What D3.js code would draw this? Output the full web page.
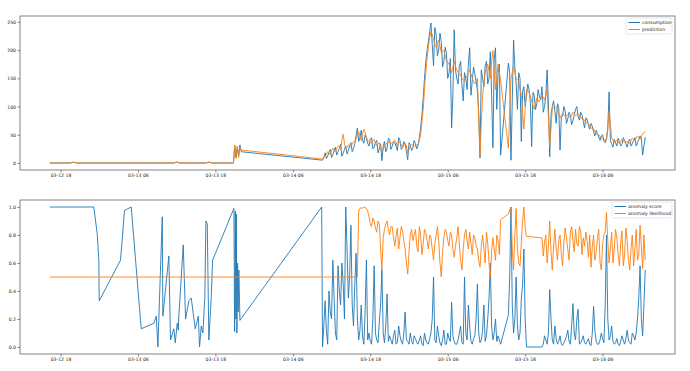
<!DOCTYPE html>
<html>
<head>
<meta charset="utf-8">
<script src="https://cdn.jsdelivr.net/npm/d3@7"></script>
<style>
  body { margin: 0; background: #fff; }
  svg text { font-family: "DejaVu Sans", sans-serif; }
</style>
</head>
<body>
<svg id="chart" width="690" height="371"></svg>
<script>
// hours are counted from 03-12 18:00
var baseTime = new Date(2017, 2, 12, 18, 0, 0);

// early, sparse readings (top panel)
var earlyHours = [-1.66, 1.5, 2.0, 2.5, 17.5, 18.0, 18.5, 22.5, 23.0, 23.5, 26.8, 27.0, 27.2, 27.4, 27.6, 27.8, 28.0];
var earlyConsumption = [0, 0, 1.5, 0, 0, 1.5, 0, 0, 1.5, 0, 0, 30, 10, 28, 12, 32, 20];
var earlyPrediction = [0, 0, 1.5, 0, 0, 1.5, 0, 0, 1.5, 0, 0, 32, 8, 30, 10, 28, 23];

// early, sparse readings (bottom panel)
var earlyScoreHours = [-1.66, 5.16, 5.69, 5.94, 6.00, 9.30, 9.92, 10.96, 12.51, 14.47, 14.84, 15.09, 15.77, 15.86,
  16.79, 17.05, 17.57, 17.78, 18.09, 18.25, 18.34, 19.02, 19.38, 19.89, 20.26, 20.88, 21.35, 21.55, 21.81,
  22.06, 22.37, 22.53, 22.74, 22.99, 23.36, 23.57, 26.87, 26.98, 27.09, 27.18, 27.24, 27.33, 27.44, 27.52,
  27.64, 27.80, 40.47];
var earlyScore = [1.0, 1.0, 0.81, 0.62, 0.33, 0.62, 0.975, 1.0, 0.13, 0.17, 0.22, 0.0, 0.93, 0.22, 0.65,
  0.05, 0.13, 0.03, 0.17, 0.12, 0.22, 0.73, 0.2, 0.33, 0.35, 0.13, 0.22, 0.0, 0.15, 0.1, 0.36, 0.9, 0.88,
  0.05, 0.36, 0.62, 0.99, 0.11, 0.97, 0.2, 0.95, 0.1, 0.6, 0.25, 0.55, 0.19, 1.0];
var earlyLikelihood = [0.5, 0.5, 0.5, 0.5, 0.5, 0.5, 0.5, 0.5, 0.5, 0.5, 0.5, 0.5, 0.5, 0.5, 0.5, 0.5, 0.5,
  0.5, 0.5, 0.5, 0.5, 0.5, 0.5, 0.5, 0.5, 0.5, 0.5, 0.5, 0.5, 0.5, 0.5, 0.5, 0.5, 0.5, 0.5, 0.5, 0.5, 0.5,
  0.5, 0.5, 0.5, 0.5, 0.5, 0.5, 0.5, 0.5, 0.5];

// regular readings from 03-14 10:36 every 24 minutes, plus the readings 12 minutes later (null = missing)
var gridStartHour = 40.6;
var gridStepHours = 0.4;

var consumption = [5, 18, 12, 24, 15, 28, 20, 33, 17, 30, 22, 36, 26,
  48, 38, 58, 35, 44,
  30, 45, 28, 40, 25, 4, 38, 26, 42, 30, 36, 22, 40, 28, 34, 6, 32, 26, 34,
  30, 62, 115, 180, 215, 248,
  172, 228, 200, 215, 180, 195, 160, 62, 236, 150, 172, 138, 160, 130, 204, 145, 158, 128, 9, 150, 172, 140,
  197, 27, 204, 160, 14, null, null, 177, 5, 218, 140, 160, 38, 135, 118, 130, 29, 120, 105, 118, 135, 100,
  165, 11, 100, 92, 105, 23, 85, 92, 78, 84, 75, 95, 82, 90, 74, 80, 66, 70, 55, 58, 46, 48, 38, 44, 126,
  34, 42, 30, 38, 33, 40, 28, 42, 34, 45, 36, 48, 14, 46];
var consumptionMid = [10, 8, 20, 10, 22, 14, 26, 12, 24, 16,
  30, 20, 34, 62, 45, 40, 50, 35, 42, 25,
  36, 18, 34, 30, 20, 44, 24, 38, 30, 45,
  24, 38, 20, 36, 22, 40, 25, 45, 85, 150,
  200, 232, 210, 240, 190, 230, 170, 205, 150, 185,
  120, 165, 140, 180, 110, 150, 175, 120, 170, 145,
  90, 165, 135, 180, 150, 120, 185, 95, 175, null,
  null, null, 160, 110, 170, 95, 150, 128, 100, 140,
  108, 125, 95, 130, 112, 90, 120, 105, 85, 110,
  70, 98, 80, 100, 70, 90, 68, 85, 100, 76,
  85, 62, 78, 60, 65, 48, 52, 40, 50, 36,
  60, 40, 28, 36, 44, 30, 45, 35, 38, 30,
  40, 30, 42, 44, 30];

var prediction = [7, 12, 20, 15, 26, 20, 30, 24, 51, 25, 32, 28, 38,
  42, 55, 40, 60, 45,
  38, 35, 42, 30, 36, 20, 30, 35, 38, 34, 40, 30, 36, 28, 35, 18, 30, 32, 30,
  33, 50, 95, 160, 205, 232,
  220, 205, 218, 195, 200, 182, 175, 160, 180, 165, 158, 150, 145, 155, 165, 150, 140, 150, 14, 120, 160, 175,
  150, 199, 130, 175, 145, null, null, 26, 150, 170, 150, 145, 120, 60, 130, 125, 110, 95, 115, 108, 120, 112,
  130, 29, 95, 100, 96, 80, 88, 82, 86, 80, 90, 84, 88, 80, 78, 72, 70, 62, 60, 52, 50, 44, 42, 40, 90,
  45, 36, 40, 34, 42, 36, 38, 35, 44, 40, 48, 42, 52, 55];
var predictionMid = [10, 16, 18, 22, 22, 26, 28, 40, 35, 28,
  30, 34, 40, 50, 48, 52, 54, 40, 36, 40,
  35, 34, 28, 24, 34, 36, 36, 38, 36, 38,
  32, 32, 30, 24, 32, 30, 32, 40, 72, 130,
  185, 222, 228, 210, 212, 208, 198, 190, 178, 168,
  170, 172, 160, 155, 148, 150, 160, 158, 145, 145,
  80, 70, 140, 168, 162, 180, 165, 150, 160, null,
  null, null, 90, 160, 160, 148, 130, 90, 95, 128,
  118, 102, 105, 112, 114, 116, 120, 80, 62, 98,
  98, 88, 84, 85, 84, 82, 85, 87, 86, 84,
  79, 75, 71, 66, 61, 56, 51, 47, 43, 41,
  65, 68, 40, 38, 37, 38, 39, 37, 36, 40,
  42, 44, 45, 47, 54];

var anomalyScore = [0.0, 0.33, 0.02, 0.25, 0.62, 0.1, 0.58, 0.3, 0.45, 1.0, 0.35, 0.87, 0.15, 0.67,
  0.05, 0.3, 0.02, 0.62, 0.1, 0.02, 0.58, 0.05, 0.18, 0.55, 0.03, 0.38, 0.08, 0.02, 0.12, 0.03, 0.08, 0.02,
  0.25, 0.04, 0.1, 0.02, 0.06, 0.02, 0.08, 0.01, 0.05, 0.02, 0.1, 0.5, 0.03, 0.08, 0.01, 0.12, 0.02, 0.06,
  0.32, 0.04, 0.02, 0.1, 0.03, 0.5, 0.05, 0.15, 0.02, 0.08, 0.45, 0.03, 0.12, 0.04, 0.2, 0.6, 0.05, 0.2,
  0.08, 0.02, null, null, 0.23, 1.0, 0.1, 0.5, 0.05, 0.34, 0.7, 0.0, null, null, null, null, null, 0.0,
  0.08, 0.02, 0.41, 0.05, 0.15, 0.02, 0.08, 0.01, 0.05, 0.12, 0.02, 0.31, 0.05, 0.27, 0.03, 0.08, 0.02,
  0.06, 0.01, 0.29, 0.04, 0.02, 0.1, 0.03, 0.8, 0.05, 0.15, 0.02, 0.06, 0.01, 0.08, 0.02, 0.12, 0.03, 0.1,
  0.05, 0.2, 0.58, 0.08, 0.55];
var anomalyScoreMid = [0.15, 0.12, 0.4, 0.2, 0.35, 0.05, 0.4, 0.6, 0.2, 0.7,
  0.5, 0.3, 0.45, 0.2, 0.12, 0.08, 0.25, 0.05, 0.04, 0.2,
  0.1, 0.03, 0.3, 0.1, 0.15, 0.04, 0.05, 0.08, 0.02, 0.15,
  0.04, 0.1, 0.05, 0.02, 0.04, 0.08, 0.03, 0.05, 0.02, 0.1,
  0.03, 0.06, 0.2, 0.05, 0.15, 0.03, 0.05, 0.02, 0.1, 0.04,
  0.08, 0.02, 0.05, 0.15, 0.02, 0.1, 0.3, 0.04, 0.06, 0.2,
  0.1, 0.05, 0.3, 0.08, 0.35, 0.15, 0.1, 0.04, 0.05, null,
  null, null, 0.5, 0.3, 0.2, 0.15, 0.1, 0.45, 0.2, null,
  null, null, null, null, null, 0.02, 0.05, 0.1, 0.2, 0.02,
  0.06, 0.04, 0.02, 0.03, 0.08, 0.04, 0.15, 0.1, 0.2, 0.02,
  0.05, 0.03, 0.04, 0.02, 0.1, 0.12, 0.02, 0.05, 0.06, 0.3,
  0.2, 0.08, 0.04, 0.03, 0.02, 0.04, 0.05, 0.06, 0.05, 0.02,
  0.08, 0.1, 0.35, 0.2, 0.3];

var anomalyLikelihood = [0.5, 0.5, 0.5, 0.5, 0.5, 0.5, 0.5, 0.5, 0.5, 0.5, 0.5, 0.5, 0.5, 0.5,
  0.97, 0.995, 1.0, 0.99, 0.93, 0.86, 0.9, 0.82, 0.88, 0.55, 0.84, 0.9, 0.8, 0.86, 0.72, 0.85, 0.78, 0.83,
  0.7, 0.52, 0.8, 0.76, 0.84, 0.68, 0.8, 0.74, 0.82, 0.7, 0.78, 0.62, 0.8, 0.76, 0.5, 0.78, 0.82, 0.72,
  0.8, 0.64, 0.78, 0.74, 0.55, 0.8, 0.76, 0.82, 0.66, 0.78, 0.7, 0.57, 0.8, 0.6, 0.74, 0.5, 0.78, 0.62,
  0.76, 0.91, null, null, 0.95, 1.0, 0.55, 0.99, 0.6, 0.75, 1.0, 0.79, null, null, null, null, null, 0.78,
  0.75, 0.6, 0.9, 0.55, 0.84, 0.62, 0.8, 0.58, 0.85, 0.7, 0.82, 0.76, 0.84, 0.72, 0.83, 0.78, 0.82, 0.64,
  0.57, 0.8, 0.68, 0.84, 0.55, 0.8, 0.96, 0.6, 0.82, 0.7, 0.78, 0.58, 0.83, 0.66, 0.76, 0.55, 0.8, 0.7,
  0.62, 0.87, 0.56, 0.62];
var anomalyLikelihoodMid = [0.5, 0.5, 0.5, 0.5, 0.5, 0.5, 0.5, 0.5, 0.5, 0.5,
  0.5, 0.5, 0.5, 0.5, 0.99, 0.99, 0.995, 0.97, 0.88, 0.92,
  0.85, 0.9, 0.7, 0.78, 0.88, 0.84, 0.86, 0.78, 0.8, 0.7,
  0.86, 0.76, 0.6, 0.68, 0.84, 0.8, 0.72, 0.86, 0.66, 0.84,
  0.76, 0.8, 0.7, 0.74, 0.86, 0.6, 0.68, 0.84, 0.76, 0.82,
  0.7, 0.72, 0.86, 0.62, 0.7, 0.84, 0.7, 0.74, 0.8, 0.72,
  0.62, 0.72, 0.7, 0.82, 0.6, 0.68, 0.7, 0.8, 0.66, null,
  null, null, 0.98, 0.7, 0.8, 0.7, 0.58, 0.9, 0.85, null,
  null, null, null, null, null, 0.65, 0.8, 0.72, 0.68, 0.72,
  0.7, 0.76, 0.66, 0.75, 0.78, 0.62, 0.86, 0.68, 0.74, 0.86,
  0.66, 0.72, 0.76, 0.8, 0.72, 0.62, 0.78, 0.6, 0.74, 0.82,
  0.76, 0.7, 0.6, 0.84, 0.66, 0.74, 0.58, 0.85, 0.62, 0.7,
  0.58, 0.84, 0.66, 0.72, 0.8];

var tickHours = [0, 12, 24, 36, 48, 60, 72, 84];
var topTicks = [0, 50, 100, 150, 200, 250];
var bottomTicks = [0, 0.2, 0.4, 0.6, 0.8, 1.0];

var blue = "#1f77b4", orange = "#ff7f0e";

function toDate(h) { return new Date(baseTime.getTime() + h * 3600e3); }

function buildSeries(hours, vals, gridVals, midVals) {
  var pts = hours.map(function(h, i) { return { t: toDate(h), v: vals[i] }; });
  gridVals.forEach(function(v, i) {
    var h = gridStartHour + i * gridStepHours;
    if (v !== null) pts.push({ t: toDate(h), v: v });
    if (i < midVals.length && midVals[i] !== null) pts.push({ t: toDate(h + gridStepHours / 2), v: midVals[i] });
  });
  return pts;
}

var topSeries = [
  { name: "consumption", color: blue, pts: buildSeries(earlyHours, earlyConsumption, consumption, consumptionMid) },
  { name: "prediction", color: orange, pts: buildSeries(earlyHours, earlyPrediction, prediction, predictionMid) }
];
var bottomSeries = [
  { name: "anomaly score", color: blue, pts: buildSeries(earlyScoreHours, earlyScore, anomalyScore, anomalyScoreMid) },
  { name: "anomaly likelihood", color: orange, pts: buildSeries(earlyScoreHours, earlyLikelihood, anomalyLikelihood, anomalyLikelihoodMid) }
];

var svg = d3.select("#chart");
var left = 20, right = 675;

// shared time axis, 5% padding like matplotlib
var allT = topSeries.concat(bottomSeries).reduce(function(a, s) { return a.concat(s.pts.map(function(p) { return +p.t; })); }, []);
var tMin = d3.min(allT), tMax = d3.max(allT), tPad = (tMax - tMin) * 0.05;
var x = d3.scaleTime().domain([new Date(tMin - tPad), new Date(tMax + tPad)]).range([left, right]);

function panel(series, top, bottom, ticks, fmt, legendW) {
  var vals = series.reduce(function(a, s) { return a.concat(s.pts.map(function(p) { return p.v; })); }, []);
  var vMin = d3.min(vals), vMax = d3.max(vals), vPad = (vMax - vMin) * 0.05;
  var y = d3.scaleLinear().domain([vMin - vPad, vMax + vPad]).range([bottom, top]);

  var g = svg.append("g");
  var clip = "clip" + top;
  g.append("clipPath").attr("id", clip).append("rect")
    .attr("x", left).attr("y", top).attr("width", right - left).attr("height", bottom - top);

  var line = d3.line().x(function(p) { return x(p.t); }).y(function(p) { return y(p.v); });
  series.forEach(function(s) {
    g.append("path").datum(s.pts)
      .attr("clip-path", "url(#" + clip + ")")
      .attr("d", line)
      .attr("fill", "none")
      .attr("stroke", s.color)
      .attr("stroke-width", 0.9)
      .attr("stroke-linejoin", "round");
  });

  var xAxis = g.append("g").attr("transform", "translate(0," + bottom + ")")
    .call(d3.axisBottom(x).tickValues(tickHours.map(toDate)).tickFormat(d3.timeFormat("%m-%d %H")).tickSize(2.5).tickPadding(1.5));
  var yAxis = g.append("g").attr("transform", "translate(" + left + ",0)")
    .call(d3.axisLeft(y).tickValues(ticks).tickFormat(fmt).tickSize(2.5).tickPadding(1.5));
  [xAxis, yAxis].forEach(function(a) {
    a.select(".domain").remove();
    a.selectAll("line").attr("stroke", "#333").attr("stroke-width", 0.6);
    a.selectAll("text").attr("font-size", "4.6px").attr("fill", "#222").attr("font-family", "DejaVu Sans, sans-serif");
  });

  g.append("rect").attr("x", left).attr("y", top).attr("width", right - left).attr("height", bottom - top)
    .attr("fill", "none").attr("stroke", "#777").attr("stroke-width", 0.9);

  // legend
  var lx = right - 3 - legendW, ly = top + 2;
  var lg = g.append("g");
  lg.append("rect").attr("x", lx).attr("y", ly).attr("width", legendW).attr("height", 16)
    .attr("rx", 1.5).attr("fill", "#fff").attr("fill-opacity", 0.8).attr("stroke", "#d6d6d6").attr("stroke-width", 0.6);
  series.forEach(function(s, i) {
    var yy = ly + 4.5 + i * 7;
    lg.append("line").attr("x1", lx + 2.5).attr("x2", lx + 14).attr("y1", yy).attr("y2", yy)
      .attr("stroke", s.color).attr("stroke-width", 1);
    lg.append("text").attr("x", lx + 16).attr("y", yy + 1.6).attr("font-size", "4.6px").attr("fill", "#222").text(s.name);
  });
}

panel(topSeries, 16, 170, topTicks, d3.format("d"), 46);
panel(bottomSeries, 200, 354, bottomTicks, d3.format(".1f"), 60);
</script>
</body>
</html>
